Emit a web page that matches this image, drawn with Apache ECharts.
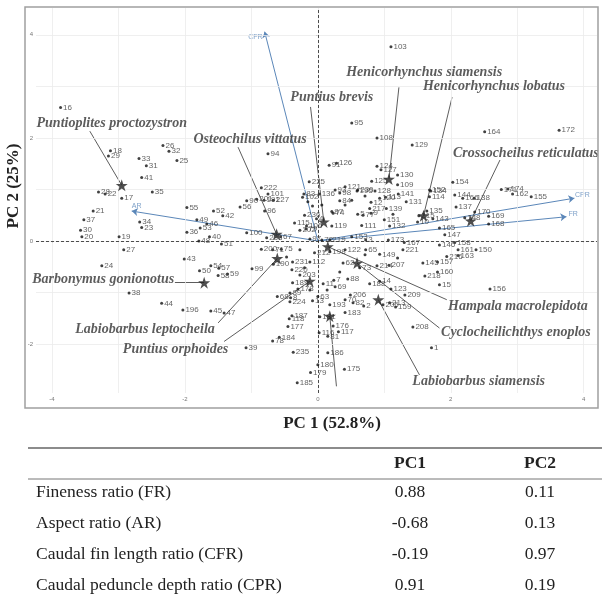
<!DOCTYPE html>
<html><head><meta charset="utf-8">
<script src="https://cdn.jsdelivr.net/npm/echarts@6/dist/echarts.min.js"></script>
<style>html,body{margin:0;padding:0;background:#fff}#c{width:602px;height:601px}</style>
</head><body><div id="c"></div>
<script>
// observation scores [id, PC1, PC2]
const points = [[1,1.71,-2.07],[2,0.69,-1.26],[3,0.72,0.02],[4,-0.02,0.43],[5,0.60,0.52],[7,0.24,-0.76],[8,-0.41,-1.10],[9,0.80,0.54],[10,1.50,0.37],[11,0.08,-0.83],[12,0.80,0.75],[13,-0.08,-1.16],[14,0.93,-0.78],[15,1.83,-0.85],[16,-3.87,2.59],[17,-2.95,0.83],[18,-3.12,1.75],[19,-2.99,0.08],[20,-3.55,0.08],[21,-3.38,0.58],[22,-3.20,0.91],[23,-2.65,0.26],[24,-3.25,-0.48],[25,-2.12,1.56],[26,-2.33,1.85],[27,-2.92,-0.17],[28,-3.30,0.95],[29,-3.15,1.65],[30,-3.57,0.21],[31,-2.58,1.46],[32,-2.24,1.74],[33,-2.69,1.60],[34,-2.68,0.37],[35,-2.49,0.95],[36,-1.97,0.17],[37,-3.52,0.41],[38,-2.84,-1.01],[39,-1.08,-2.07],[40,-1.63,0.08],[41,-2.65,1.23],[42,-1.43,0.49],[43,-2.01,-0.35],[44,-2.35,-1.21],[45,-1.61,-1.36],[46,-1.67,0.33],[47,-1.41,-1.40],[48,-1.79,0.00],[49,-1.82,0.41],[50,-1.78,-0.58],[51,-1.45,-0.06],[52,-1.57,0.58],[53,-1.77,0.25],[54,-1.61,-0.48],[55,-1.97,0.65],[56,-1.17,0.66],[57,-1.49,-0.53],[58,-1.50,-0.67],[59,-1.36,-0.64],[62,0.38,-0.43],[63,0.00,-1.08],[65,0.72,-0.17],[67,-0.56,0.08],[68,-0.61,-1.08],[69,0.26,-0.89],[70,0.41,-1.14],[71,-0.68,-0.17],[72,0.06,0.02],[73,0.63,-0.52],[74,0.23,0.54],[75,-0.55,-0.16],[77,0.68,0.50],[78,-0.68,-1.94],[79,-0.18,0.23],[81,0.15,-1.85],[82,0.53,-1.20],[83,-0.21,0.91],[84,0.33,0.78],[87,0.21,0.57],[88,0.45,-0.74],[89,-0.42,-1.01],[90,-1.07,0.78],[91,0.17,1.47],[93,0.26,0.99],[94,-0.75,1.69],[95,0.51,2.29],[96,-0.80,0.58],[97,-0.12,0.04],[98,0.33,0.93],[99,-0.99,-0.54],[100,-1.07,0.16],[101,-0.75,0.91],[102,-0.23,0.85],[103,1.10,3.77],[106,-0.17,0.29],[108,0.89,2.00],[109,1.20,1.09],[111,0.66,0.30],[112,-0.12,-0.41],[113,1.02,0.85],[114,1.68,0.86],[115,-0.35,0.35],[116,0.02,-1.78],[117,0.31,-1.76],[118,-0.43,-1.51],[119,0.21,0.29],[120,0.93,0.83],[121,0.41,1.05],[122,0.41,-0.17],[123,1.10,-0.93],[124,0.89,1.45],[125,0.81,1.16],[126,0.28,1.51],[127,0.95,1.38],[128,0.86,0.97],[129,1.42,1.86],[130,1.20,1.28],[131,1.33,0.76],[132,1.08,0.29],[134,1.70,0.97],[135,1.64,0.58],[136,0.02,0.91],[137,2.08,0.66],[138,2.35,0.83],[139,1.03,0.63],[141,1.21,0.91],[143,1.73,0.43],[144,2.06,0.89],[145,1.58,-0.43],[146,1.83,-0.08],[147,1.91,0.12],[148,2.21,0.45],[149,0.93,-0.26],[150,2.38,-0.17],[151,1.00,0.41],[152,1.68,0.99],[153,0.51,0.08],[154,2.03,1.14],[155,3.21,0.86],[156,2.59,-0.93],[157,1.80,-0.41],[158,2.06,-0.03],[159,1.17,-1.28],[160,1.80,-0.60],[161,2.11,-0.17],[162,2.93,0.91],[163,2.11,-0.28],[164,2.51,2.12],[165,1.83,0.25],[166,2.18,0.83],[167,1.30,-0.03],[168,2.57,0.33],[169,2.57,0.48],[170,2.36,0.56],[171,2.76,1.00],[172,3.63,2.15],[173,1.06,0.02],[174,2.86,1.01],[175,0.40,-2.49],[176,0.23,-1.65],[177,-0.45,-1.66],[178,-0.30,-0.93],[179,-0.11,-2.55],[180,0.00,-2.40],[181,0.03,-1.47],[183,0.41,-1.39],[184,-0.58,-1.87],[185,-0.31,-2.75],[186,0.15,-2.17],[187,-0.39,-1.45],[188,0.78,-0.83],[189,-0.38,-0.81],[190,-0.67,-0.45],[191,-0.81,0.79],[193,0.18,-1.24],[195,0.59,0.97],[196,-2.03,-1.34],[198,0.18,-0.21],[200,-0.85,-0.16],[201,-0.92,0.81],[202,-0.27,0.21],[203,-0.27,-0.66],[205,0.98,-1.24],[206,0.49,-1.05],[207,1.07,-0.47],[208,1.43,-1.67],[209,1.31,-1.05],[212,-0.05,-0.23],[213,1.08,-1.20],[214,0.89,-0.48],[215,1.52,0.49],[216,1.94,-0.30],[217,0.78,0.63],[218,1.61,-0.68],[219,0.18,0.02],[220,-0.39,-0.56],[221,1.28,-0.17],[222,-0.85,1.03],[224,-0.42,-1.18],[225,-0.13,1.15],[227,-0.67,0.79],[230,0.60,0.99],[231,-0.38,-0.41],[233,-0.77,0.06],[235,-0.37,-2.16],[236,-0.20,0.50],
['',-0.15,0.76],['',-0.08,0.68],['',0.06,0.70],['',0.41,0.70],['',0.51,0.79],['',0.71,0.87],['',1.13,0.52],['',-0.27,-0.17],['',-0.47,-0.31],['',-0.20,-0.52],['',0.33,-0.60],['',0.14,-0.95],['',-0.12,-0.95],['',0.71,-0.27],['',1.20,-0.33]];

// species centroids (stars) and their annotation anchors
const speciesNames = ['Puntioplites proctozystron','Osteochilus vittatus','Puntius brevis','Henicorhynchus siamensis','Henicorhynchus lobatus','Crossocheilus reticulatus','Barbonymus gonionotus','Labiobarbus leptocheila','Puntius orphoides','Hampala macrolepidota','Cyclocheilichthys enoplos','Labiobarbus siamensis','Cyprinus rubrofuscus'];
const starX = [-2.95,-0.62,0.09,1.07,1.59,2.30,-1.71,-0.61,-0.12,0.15,0.59,0.91,0.18];
const starY = [1.08,0.13,0.37,1.20,0.49,0.39,-0.81,-0.34,-0.78,-0.11,-0.43,-1.14,-1.46];
const speciesLabelX = [-3.10,-1.02,0.21,1.60,2.65,3.13,-3.23,-2.60,-2.14,3.01,2.98,2.42,0.66];
const speciesLabelY = [2.29,1.98,2.79,3.28,3.00,1.69,-0.74,-1.72,-2.11,-1.27,-1.78,-2.73,-2.98];
const leaderEndX = [-3.43,-1.20,-0.11,1.22,2.02,2.74,-2.15,-1.50,-1.41,1.94,1.83,1.53,0.28];
const leaderEndY = [2.13,1.82,2.60,2.98,2.79,1.57,-0.81,-1.59,-1.95,-1.14,-1.69,-2.60,-2.82];

// variable loadings (arrow tips)
const loadingNames = ['FR','AR','CFR','CPR'];
const loadingTipX = [3.74,-2.80,-0.80,3.86];
const loadingTipY = [0.47,0.58,4.06,0.83];

// gridline values
const gridXs = [-4,-3,-2,-1,0,1,2,3,4];
const gridYs = [-2,-1,0,1,2,3,4];

// table
const tableHeader = ['PC1','PC2'];
const tableRows = ['Fineness ratio (FR)','Aspect ratio (AR)','Caudal fin length ratio (CFR)','Caudal peduncle depth ratio (CPR)'];
const tablePC1 = [0.88,-0.68,-0.19,0.91];
const tablePC2 = [0.11,0.13,0.97,0.19];

const starPath = 'path://M50,2 L61.8,37.6 L99,37.6 L68.9,59.6 L80.4,95 L50,73 L19.6,95 L31.1,59.6 L1,37.6 L38.2,37.6 Z';
const loadingLabelStyle = {
  FR:{position:'right',offset:[0,-3]},
  AR:{position:'right',offset:[-2,-5]},
  CFR:{position:'left',offset:[0,5]},
  CPR:{position:'top',offset:[8,2]}
};
const blue = '#5b87b9';
const serif = '"Liberation Serif","Times New Roman",serif';

const chart = echarts.init(document.getElementById('c'));

const graphics = [
  {type:'rect', shape:{x:25,y:7,width:573,height:401}, style:{fill:'none',stroke:'#a0a0a0',lineWidth:1.5}, z:100},
  {type:'text', x:332, y:424, style:{text:'PC 1 (52.8%)', font:'bold 17px '+serif, fill:'#222', textAlign:'center', textVerticalAlign:'middle', align:'center', verticalAlign:'middle'}},
  {type:'text', x:14, y:186, rotation:Math.PI/2, style:{text:'PC 2 (25%)', font:'bold 17px '+serif, fill:'#222', textAlign:'center', textVerticalAlign:'middle', align:'center', verticalAlign:'middle'}},
  {type:'line', shape:{x1:28,y1:448,x2:602,y2:448}, style:{stroke:'#666',lineWidth:1.5}},
  {type:'line', shape:{x1:28,y1:479,x2:602,y2:479}, style:{stroke:'#777',lineWidth:1}}
];
const colX = [410,540];
tableHeader.forEach((h,i)=>graphics.push({type:'text', x:colX[i], y:463, style:{text:h, font:'bold 17.5px '+serif, fill:'#222', textAlign:'center', textVerticalAlign:'middle', align:'center', verticalAlign:'middle'}}));
const rowY = [492,523,554,585];
tableRows.forEach((r,i)=>{
  graphics.push({type:'text', x:36, y:rowY[i], style:{text:r, font:'17.5px '+serif, fill:'#222', textAlign:'left', textVerticalAlign:'middle', align:'left', verticalAlign:'middle'}});
  graphics.push({type:'text', x:colX[0], y:rowY[i], style:{text:tablePC1[i].toFixed(2), font:'17.5px '+serif, fill:'#222', textAlign:'center', textVerticalAlign:'middle', align:'center', verticalAlign:'middle'}});
  graphics.push({type:'text', x:colX[1], y:rowY[i], style:{text:tablePC2[i].toFixed(2), font:'17.5px '+serif, fill:'#222', textAlign:'center', textVerticalAlign:'middle', align:'center', verticalAlign:'middle'}});
});

const option = {
  animation:false,
  backgroundColor:'#fff',
  grid:{left:36,right:5,top:8,bottom:208,containLabel:false},
  xAxis:{type:'value',min:-4.24,max:4.2,splitNumber:4,
    axisLine:{show:false},axisTick:{show:true,length:2,lineStyle:{color:'#999'}},
    splitLine:{show:false},
    axisLabel:{fontSize:6,color:'#777',margin:3,showMinLabel:false,showMaxLabel:false,fontFamily:'Liberation Sans'}},
  yAxis:{type:'value',min:-2.95,max:4.52,splitNumber:4,
    axisLine:{show:false},axisTick:{show:true,length:2,lineStyle:{color:'#999'}},
    splitLine:{show:false},
    axisLabel:{fontSize:6,color:'#777',margin:3,showMinLabel:false,showMaxLabel:false,fontFamily:'Liberation Sans'}},
  graphic:graphics,
  series:[
    {type:'scatter',data:[],silent:true,z:1,
      markLine:{silent:true,symbol:'none',label:{show:false},animation:false,
        lineStyle:{color:'#ebebeb',width:0.8,type:'solid'},
        data:gridXs.map(v=>({xAxis:v})).concat(gridYs.map(v=>({yAxis:v})))}},
    {type:'scatter',data:[],silent:true,z:2,
      markLine:{silent:true,symbol:'none',label:{show:false},animation:false,
        lineStyle:{color:'#222',width:0.8,type:[3,2]},
        data:[{xAxis:0},{yAxis:0}]}},
    {type:'lines',coordinateSystem:'cartesian2d',z:3,silent:true,
      symbol:['none','arrow'],symbolSize:6,
      lineStyle:{color:blue,width:1,opacity:1},
      data:loadingNames.map((n,i)=>({coords:[[0,0],[loadingTipX[i],loadingTipY[i]]]}))},
    {type:'scatter',z:3,silent:true,symbolSize:0,
      data:loadingNames.map((n,i)=>({name:n,value:[loadingTipX[i],loadingTipY[i]],label:loadingLabelStyle[n]})),
      label:{show:true,formatter:'{b}',fontSize:7,color:blue,fontFamily:'Liberation Sans',distance:2}},
    {type:'lines',coordinateSystem:'cartesian2d',z:4,silent:true,
      symbol:['none','none'],
      lineStyle:{color:'#333',width:0.8,opacity:1},
      data:speciesNames.map((n,i)=>({coords:[[starX[i],starY[i]],[leaderEndX[i],leaderEndY[i]]]}))},
    {type:'scatter',z:5,silent:true,symbolSize:3,itemStyle:{color:'#111'},
      data:points.map(p=>({name:String(p[0]),value:[p[1],p[2]]})),
      label:{show:true,formatter:'{b}',position:'right',distance:1,offset:[0,-4],fontSize:8,color:'#3a3a3a',fontFamily:'Liberation Sans'},
      labelLayout:{hideOverlap:false}},
    {type:'scatter',z:6,silent:true,symbol:starPath,symbolSize:12,itemStyle:{color:'#222'},
      data:speciesNames.map((n,i)=>({name:n,value:[starX[i],starY[i]]}))},
    {type:'scatter',z:7,silent:true,symbolSize:0,
      data:speciesNames.map((n,i)=>({name:n,value:[speciesLabelX[i],speciesLabelY[i]]})),
      label:{show:true,position:'inside',formatter:'{b}',fontFamily:serif,fontStyle:'italic',fontWeight:'bold',fontSize:14,color:'#333'},
      labelLayout:{hideOverlap:false}}
  ]
};
chart.setOption(option);
</script></body></html>
